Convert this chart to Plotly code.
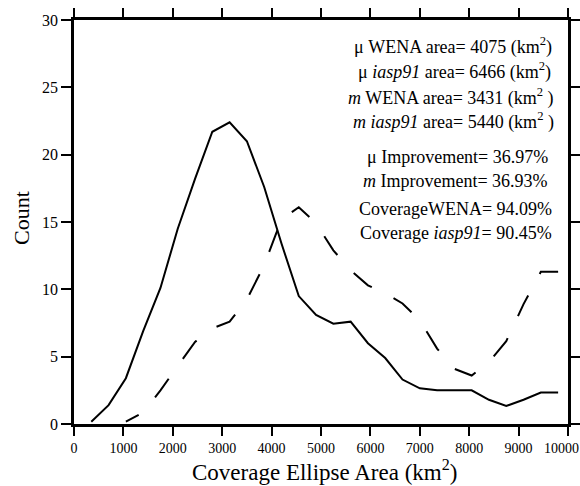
import plotly.graph_objects as go

# Bin centres (km^2) and counts
x_wena = [350, 700, 1050, 1400, 1750, 2100, 2450, 2800, 3150, 3500, 3850, 4200, 4550, 4900,
          5250, 5600, 5950, 6300, 6650, 7000, 7350, 7700, 8050, 8400, 8750, 9100, 9450, 9800]
count_wena = [0.17, 1.4, 3.4, 6.9, 10.1, 14.5, 18.2, 21.7, 22.4, 21.0, 17.6, 13.4, 9.5, 8.1,
              7.45, 7.6, 6.0, 4.9, 3.3, 2.65, 2.5, 2.5, 2.5, 1.8, 1.34, 1.8, 2.33, 2.33]

x_iasp = [1050, 1400, 1750, 2100, 2450, 2800, 3150, 3500, 3850, 4200, 4550, 4900, 5250,
          5600, 5950, 6300, 6650, 7000, 7350, 7700, 8050, 8400, 8750, 9100, 9450, 9800]
count_iasp = [0.17, 0.85, 2.5, 4.3, 6.1, 7.1, 7.6, 9.25, 11.8, 15.2, 16.1, 14.9, 12.9,
              11.4, 10.3, 9.7, 8.95, 7.7, 5.6, 4.1, 3.6, 4.6, 6.15, 8.9, 11.3, 11.3]

x_ticks = [0, 1000, 2000, 3000, 4000, 5000, 6000, 7000, 8000, 9000, 10000]
x_tick_labels = ["0", "1000", "2000", "3000", "4000", "5000", "6000", "7000", "8000", "9000", "10000"]
y_ticks = [0, 5, 10, 15, 20, 25, 30]
y_tick_labels = ["0", "5", "10", "15", "20", "25", "30"]

stats_lines = [
    "\u03bc WENA area= 4075 (km<sup>2</sup>)",
    "\u03bc <i>iasp91</i> area= 6466 (km<sup>2</sup>)",
    "<i>m</i> WENA area= 3431 (km<sup>2</sup> )",
    "<i>m iasp91</i> area= 5440 (km<sup>2</sup> )",
    "\u03bc Improvement= 36.97%",
    "<i>m</i> Improvement= 36.93%",
    "CoverageWENA= 94.09%",
    "Coverage <i>iasp91</i>= 90.45%",
]
stats_y_px = [46, 71, 97, 121, 157, 181, 209, 233]
stats_right_px = [554, 553, 556, 556, 550, 550, 554, 554]

FONT = "Liberation Serif, serif"
W, H = 580, 486
ML, MR, MT, MB = 74, 12, 20, 62
PW, PH = W - ML - MR, H - MT - MB

# long-dash pattern with the phase seen in the reference (first dash partly cut)
dash_pattern = ",".join(["14.5px", "24.4px"] + ["23px", "24.4px"] * 20)

fig = go.Figure()
fig.add_trace(go.Scatter(x=x_wena, y=count_wena, mode="lines",
                         line=dict(color="black", width=2), showlegend=False))
fig.add_trace(go.Scatter(x=x_iasp, y=count_iasp, mode="lines",
                         line=dict(color="black", width=2, dash=dash_pattern), showlegend=False))

annotations = []
for txt, py, rx in zip(stats_lines, stats_y_px, stats_right_px):
    annotations.append(dict(
        text=txt, xref="paper", yref="paper",
        x=(rx - ML) / PW, y=(H - MB - py) / PH,
        xanchor="right", yanchor="middle", showarrow=False,
        font=dict(family=FONT, size=18, color="black")))

annotations.append(dict(
    text="Count", xref="paper", yref="paper",
    x=(21 - ML) / PW, y=(H - MB - 218) / PH,
    xanchor="center", yanchor="middle", textangle=-90, showarrow=False,
    font=dict(family=FONT, size=22, color="black")))

annotations.append(dict(
    text="Coverage Ellipse Area (km<sup>2</sup>)", xref="paper", yref="paper",
    x=(324 - ML) / PW, y=(H - MB - 470) / PH,
    xanchor="center", yanchor="middle", showarrow=False,
    font=dict(family=FONT, size=23, color="black")))

# last x tick label sits slightly inside the page edge in the reference
annotations.append(dict(
    text=x_tick_labels[-1], xref="paper", yref="paper",
    x=(561 - ML) / PW, y=(H - MB - 439) / PH,
    xanchor="center", yanchor="top", showarrow=False,
    font=dict(family=FONT, size=14, color="black")))

fig.update_layout(
    width=W, height=H,
    margin=dict(l=ML, r=MR, t=MT, b=MB, autoexpand=False),
    paper_bgcolor="white", plot_bgcolor="white",
    font=dict(family=FONT, color="black"),
    annotations=annotations,
)
fig.update_xaxes(
    range=[0, 10000], tickvals=x_ticks, ticktext=x_tick_labels[:-1] + [""],
    showgrid=False, zeroline=False, automargin=False,
    showline=True, linecolor="black", linewidth=2.5, mirror="allticks",
    ticks="outside", ticklen=9, tickwidth=1.5, tickcolor="black",
    tickfont=dict(family=FONT, size=14, color="black"),
)
fig.update_yaxes(
    range=[0, 30], tickvals=y_ticks, ticktext=y_tick_labels,
    showgrid=False, zeroline=False, automargin=False,
    showline=True, linecolor="black", linewidth=2.5, mirror="allticks",
    ticks="outside", ticklen=10, tickwidth=1.5, tickcolor="black",
    tickfont=dict(family=FONT, size=16, color="black"),
)

fig.write_html("out.html")
